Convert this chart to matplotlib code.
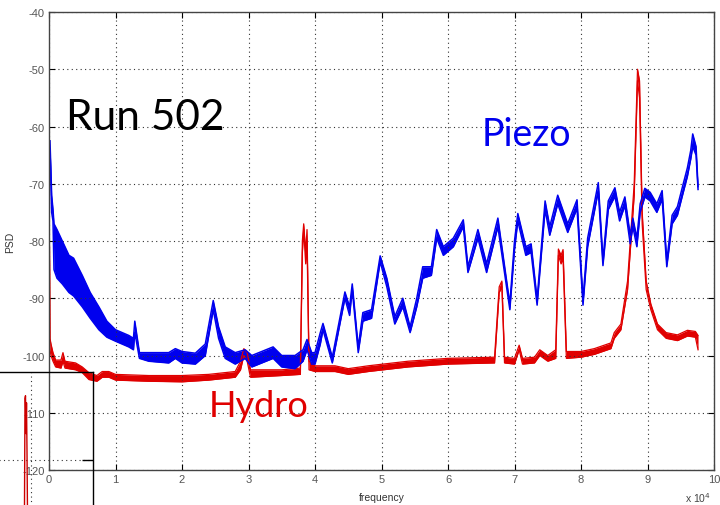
import matplotlib
matplotlib.use("Agg")
import matplotlib.pyplot as plt
from matplotlib.ticker import FuncFormatter

plt.rcParams["axes.unicode_minus"] = False

# Piezo PSD envelope: frequency (x 10^4 Hz), upper and lower trace in dB
piezo_f = [0.015, 0.04, 0.06, 0.075, 0.12, 0.2, 0.3, 0.37, 0.5, 0.62, 0.75, 0.87,
           1.0, 1.2, 1.27, 1.29, 1.36, 1.5, 1.8, 1.9, 2.0, 2.2, 2.35, 2.47, 2.55,
           2.65, 2.8, 2.95, 3.05, 3.37, 3.5, 3.7, 3.82, 3.88, 3.95, 4.0, 4.08, 4.12,
           4.26, 4.45, 4.52, 4.56, 4.65, 4.72, 4.85, 4.98, 5.08, 5.2, 5.32, 5.43,
           5.53, 5.62, 5.75, 5.83, 5.93, 6.08, 6.23, 6.3, 6.45, 6.58, 6.75, 6.93,
           7.0, 7.05, 7.17, 7.25, 7.34, 7.46, 7.53, 7.65, 7.8, 7.94, 8.03, 8.1,
           8.26, 8.33, 8.41, 8.51, 8.58, 8.66, 8.74, 8.78, 8.84, 8.89, 8.96, 9.04,
           9.14, 9.22, 9.29, 9.37, 9.45, 9.52, 9.6, 9.65, 9.68, 9.73, 9.76]
piezo_hi = [-62.5, -72, -74.5, -77, -78, -80, -82.5, -83, -86, -89, -91.5, -94,
            -95.5, -96.5, -97, -94, -99.5, -99.5, -99.5, -98.8, -99.3, -99.6, -98, -90.4, -95,
            -98.5, -99.5, -99, -100, -98.5, -100, -100, -99, -97.2, -99.5, -99.5, -96, -94.4,
            -100.3, -88.9, -91.5, -87.5, -98.5, -92.5, -92, -82.6, -86.5, -93.2, -90, -95,
            -90, -84.5, -84.5, -78, -81, -79.5, -76.3, -84.5, -78, -84, -76, -91,
            -80, -75.2, -81, -80.5, -90.2, -73, -77.5, -72, -77, -72.8, -90.2, -79.5,
            -69.8, -83.3, -73, -70.7, -75, -72.3, -79, -76, -79.5, -73.5, -70.8, -71.5,
            -73.5, -71.2, -83.5, -75.5, -74, -70.8, -67.2, -64.2, -61.3, -63.5, -70.5]
piezo_lo = [-64, -75, -76.5, -85, -86.5, -87.5, -89, -89.6, -91.5, -93.5, -95.5, -96.8,
            -97.5, -98.5, -99, -96, -100.5, -101, -101.3, -100.5, -101.3, -101.5, -100, -92, -97,
            -100.5, -101.5, -100.5, -102, -100.5, -102, -102.3, -101, -99, -101.5, -101.5, -98, -95.5,
            -101.3, -90, -93, -88.5, -99.5, -94, -93.5, -83.6, -88, -94.5, -91.5, -96,
            -91.5, -86.5, -86, -79.5, -82.5, -81, -77.5, -85.5, -79.5, -85.5, -77.5, -92,
            -81.5, -76.5, -82.5, -82, -91.2, -74.5, -79, -73.5, -78.5, -74.3, -91.2, -81,
            -71.3, -84.3, -74.5, -72.2, -76.5, -73.8, -80.5, -77.5, -81, -75, -72.3, -73,
            -75, -72.7, -84.5, -77, -75.5, -72.3, -68.7, -65.7, -63.5, -65, -71]

# Hydrophone PSD envelope
hydro_f = [0.003, 0.008, 0.015, 0.03, 0.06, 0.1, 0.18, 0.21, 0.24, 0.4, 0.5, 0.6,
           0.72, 0.8, 0.9, 1.0, 1.5, 2.0, 2.4, 2.8, 2.88, 2.93, 2.98, 3.03, 3.5,
           3.78, 3.81, 3.83, 3.86, 3.88, 3.91, 4.0, 4.3, 4.5, 4.8, 5.4, 6.0, 6.7,
           6.77, 6.81, 6.85, 7.0, 7.07, 7.12, 7.3, 7.38, 7.5, 7.62, 7.66, 7.7, 7.73,
           7.78, 8.0, 8.2, 8.45, 8.5, 8.6, 8.7, 8.8, 8.85, 8.88, 8.92, 8.98, 9.05,
           9.15, 9.28, 9.45, 9.6, 9.72, 9.76]
hydro_hi = [-80, -81, -97, -98, -99.5, -100.8, -100.8, -99.5, -101, -101.3, -102, -103,
            -103.5, -102.8, -102.8, -103.3, -103.5, -103.5, -103.3, -102.8, -101, -98.8, -99.5, -102.5, -102.5,
            -102.2, -80, -77, -82, -78, -101, -101.8, -101.8, -102.3, -101.8, -101, -100.5, -100.3,
            -88, -87, -100.3, -100.5, -98.2, -100.5, -100.3, -99, -100, -99, -81.4, -82.5, -81.5,
            -99.3, -99.3, -98.8, -97.8, -96, -94.5, -87, -70, -50, -52, -75, -87, -91,
            -94.5, -96, -96.4, -95.6, -95.8, -96.5]
hydro_lo = [-82, -84, -99, -100, -101, -102, -102.2, -101, -102.2, -102.5, -103, -104.2,
            -104.5, -103.8, -103.8, -104.3, -104.5, -104.6, -104.3, -103.8, -102.5, -100, -101, -103.8, -103.5,
            -103.3, -82, -78, -84, -80, -102.5, -102.8, -102.8, -103.3, -102.8, -102, -101.5, -101.3,
            -89, -88, -101.3, -101.5, -99, -101.5, -101.3, -100, -101, -100.5, -82.5, -84, -83,
            -100.5, -100.3, -99.8, -98.8, -97, -95.5, -88.5, -72, -52, -55, -77, -88.5, -92,
            -95.5, -97, -97.4, -96.6, -96.8, -99]

# Fragment of a second spectrum panel at the lower left
frag_x = [0.235, 0.245, 0.25, 0.255, 0.26, 0.265, 0.27, 0.275, 0.285]
frag_y = [-131, -125, -113, -112.7, -117, -113.5, -119, -126, -131]

x_ticks = list(range(0, 11))
y_ticks = list(range(-120, -39, 10))

BLUE = "#0000ee"
RED = "#e00000"
TICK_FONT = ["Liberation Sans Narrow", "Liberation Sans", "DejaVu Sans"]

W, H = 720, 506
fig = plt.figure(figsize=(W / 100, H / 100), dpi=100)
fig.patch.set_facecolor("white")

def fig_rect(x0, y0, x1, y1):
    return [x0 / W, 1 - y1 / H, (x1 - x0) / W, (y1 - y0) / H]

ax = fig.add_axes(fig_rect(49, 13, 714, 471))

to_hz = lambda v: [f * 1e4 for f in v]

ax.fill_between(to_hz(hydro_f), hydro_lo, hydro_hi, color=RED, lw=0)
ax.plot(to_hz(hydro_f), hydro_hi, color=RED, lw=0.9)
ax.plot(to_hz(hydro_f), hydro_lo, color=RED, lw=0.9)

ax.fill_between(to_hz(piezo_f), piezo_lo, piezo_hi, color=BLUE, lw=0)
ax.plot(to_hz(piezo_f), piezo_hi, color=BLUE, lw=1.1)
ax.plot(to_hz(piezo_f), piezo_lo, color=BLUE, lw=1.1)

ax.set_xlim(0, 1e5)
ax.set_ylim(-120, -40)
ax.set_xticks([t * 1e4 for t in x_ticks])
ax.set_yticks(y_ticks)
ax.xaxis.set_major_formatter(FuncFormatter(lambda v, p: f"{v / 1e4:g}"))
ax.grid(True, color="#333333", linestyle=(0, (1, 3)), linewidth=0.8)
ax.tick_params(direction="in", length=4, width=0.8, top=True, right=True,
               labelsize=8, labelcolor="#555555", pad=3)
for lab in ax.get_xticklabels() + ax.get_yticklabels():
    lab.set_family(TICK_FONT)
for s in ax.spines.values():
    s.set_color("#444444")
    s.set_linewidth(1.0)

ax.set_xlabel("frequency", fontsize=7.5, color="#333333", family=TICK_FONT, labelpad=6)
ax.set_ylabel("PSD", fontsize=7.5, color="#333333", family=TICK_FONT, labelpad=5)
ax.text(0.996, -0.045, r"x 10$^4$", transform=ax.transAxes, ha="right", va="top",
        fontsize=7.5, color="#444444", family=TICK_FONT)

ax.text(0.25e4, -60.4, "Run 502", fontsize=30.5, color="black", family="Lato",
        va="baseline", ha="left")
ax.text(6.5e4, -63.2, "Piezo", fontsize=27, color=BLUE, family="Lato",
        va="baseline", ha="left")
ax.text(2.4e4, -110.5, "Hydro", fontsize=26, color=RED, family="Lato",
        va="baseline", ha="left")

# Overlapping corner of another spectrum panel
ax2 = fig.add_axes(fig_rect(-60, 373, 93, 560))
ax2.set_facecolor("none")
ax2.plot(frag_x, frag_y, color="#cc0000", lw=1.0)
ax2.set_xlim(-0.6, 0.93)
ax2.set_ylim(-131.25, -110)
ax2.set_xticks([0.31])
ax2.set_yticks([-120])
ax2.grid(True, color="#333333", linestyle=(0, (1, 3)), linewidth=0.8)
ax2.tick_params(direction="in", length=8, width=1, left=False, bottom=False,
                right=True, labelleft=False, labelbottom=False)
ax2.spines["left"].set_visible(False)
ax2.spines["bottom"].set_visible(False)
for s in ("top", "right"):
    ax2.spines[s].set_color("black")
    ax2.spines[s].set_linewidth(1.0)

fig.savefig("out.png", dpi=100, facecolor="white")
